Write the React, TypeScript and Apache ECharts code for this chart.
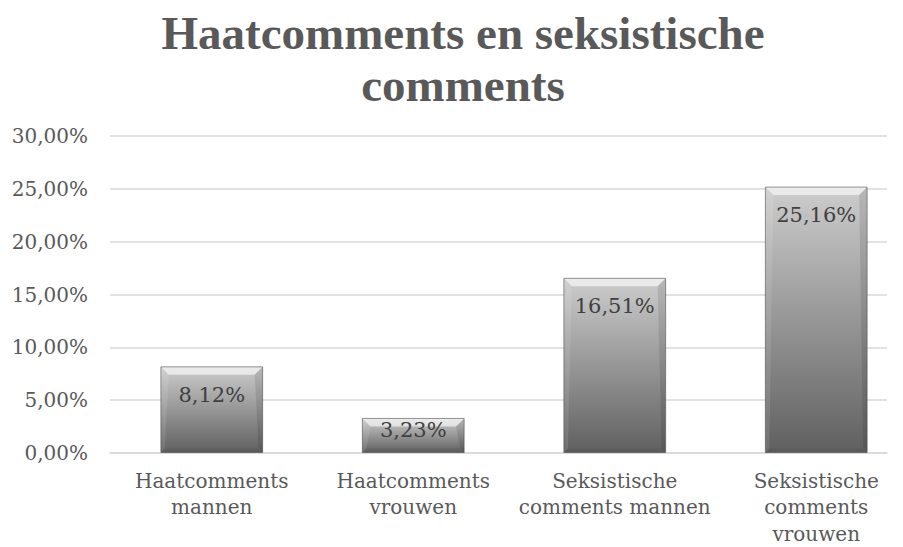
import React, { useEffect, useRef } from "react";
import * as echarts from "echarts";

const categories = [
  "Haatcomments\nmannen",
  "Haatcomments\nvrouwen",
  "Seksistische\ncomments mannen",
  "Seksistische\ncomments\nvrouwen",
];
const values = [8.12, 3.23, 16.51, 25.16];
const yMin = 0;
const yMax = 30;
const yInterval = 5;
const titleText = "Haatcomments en seksistische\ncomments";

const fmt = (v: number) => v.toFixed(2).replace(".", ",") + "%";

const CHART_W = 930;

export default function App() {
  const ref = useRef<HTMLDivElement>(null);
  useEffect(() => {
    document.body.style.margin = "0";
    const chart = echarts.init(ref.current!, null, { renderer: "svg" });
    const font = "DejaVu Serif";
    chart.setOption({
      animation: false,
      backgroundColor: "#ffffff",
      title: {
        text: titleText,
        left: 458,
        textAlign: "center",
        top: 2,
        textStyle: {
          fontFamily: "Liberation Serif",
          fontSize: 47,
          fontWeight: "bold",
          color: "#595959",
          lineHeight: 52,
        },
      },
      grid: [
        { left: 111, right: CHART_W - 111 - 806, top: 136, bottom: 94 },
        { left: 110, right: CHART_W - 887, top: 136, bottom: 94 },
      ],
      xAxis: [
        {
          gridIndex: 0,
          type: "category",
          data: categories,
          axisLine: { show: false },
          axisTick: { show: false },
          axisLabel: {
            fontFamily: font,
            fontSize: 20,
            color: "#595959",
            lineHeight: 26.5,
            margin: 15,
            interval: 0,
          },
        },
        {
          gridIndex: 1,
          type: "category",
          data: categories,
          axisLine: { lineStyle: { color: "#d9d9d9", width: 1.5 } },
          axisTick: { show: false },
          axisLabel: { show: false },
        },
      ],
      yAxis: [
        {
          gridIndex: 0,
          type: "value",
          min: yMin,
          max: yMax,
          interval: yInterval,
          axisLine: { show: false },
          axisTick: { show: false },
          splitLine: { show: false },
          axisLabel: { show: false },
        },
        {
          gridIndex: 1,
          type: "value",
          min: yMin,
          max: yMax,
          interval: yInterval,
          axisLine: { show: false },
          axisTick: { show: false },
          splitLine: { lineStyle: { color: "#d9d9d9", width: 1.5 } },
          axisLabel: {
            fontFamily: font,
            fontSize: 20,
            color: "#595959",
            margin: 22,
            formatter: (v: number) => fmt(v),
          },
        },
      ],
      series: [
        {
          type: "custom",
          xAxisIndex: 0,
          yAxisIndex: 0,
          data: values.map((v, i) => [i, v]),
          renderItem: (params: any, api: any) => {
            const xi = api.value(0);
            const v = api.value(1);
            const top = api.coord([xi, v]);
            const bot = api.coord([xi, 0]);
            const bw = api.size([1, 0])[0] * 0.505;
            const l = top[0] - bw / 2;
            const r = top[0] + bw / 2;
            const t = top[1];
            const b = bot[1];
            const h = b - t;
            const d = Math.min(8, h / 3);
            const ds = Math.min(4, h / 6);
            const labelY = t + Math.min(28, h / 2 - 5);
            return {
              type: "group",
              children: [
                {
                  type: "rect",
                  shape: { x: l, y: t, width: bw, height: h },
                  style: {
                    fill: new echarts.graphic.LinearGradient(0, 0, 0, 1, [
                      { offset: 0, color: "#cdcdcd" },
                      { offset: 1, color: "#606060" },
                    ]),
                  },
                },
                {
                  type: "polygon",
                  shape: { points: [[l, t], [r, t], [r - d, t + d], [l + d, t + d]] },
                  style: { fill: "rgba(255,255,255,0.6)" },
                },
                {
                  type: "polygon",
                  shape: { points: [[l, t], [l + d, t + d], [l + ds, b - ds], [l, b]] },
                  style: { fill: "rgba(255,255,255,0.1)" },
                },
                {
                  type: "polygon",
                  shape: { points: [[r, t], [r, b], [r - ds, b - ds], [r - d, t + d]] },
                  style: { fill: "rgba(0,0,0,0.1)" },
                },
                {
                  type: "polygon",
                  shape: { points: [[l, b], [r, b], [r - ds, b - ds], [l + ds, b - ds]] },
                  style: { fill: "rgba(0,0,0,0.06)" },
                },
                {
                  type: "rect",
                  shape: { x: l, y: t, width: bw, height: h },
                  style: { fill: "none", stroke: "rgba(70,70,70,0.55)", lineWidth: 1 },
                },
                {
                  type: "text",
                  style: {
                    text: fmt(v),
                    x: top[0],
                    y: labelY,
                    align: "center",
                    verticalAlign: "middle",
                    fontFamily: font,
                    fontSize: 21,
                    fill: "#404040",
                  },
                },
              ],
            };
          },
        },
      ],
    });
    return () => chart.dispose();
  }, []);
  return (
    <div style={{ width: 903, height: 547, overflow: "hidden", position: "relative" }}>
      <div ref={ref} style={{ width: CHART_W, height: 547 }} />
    </div>
  );
}
